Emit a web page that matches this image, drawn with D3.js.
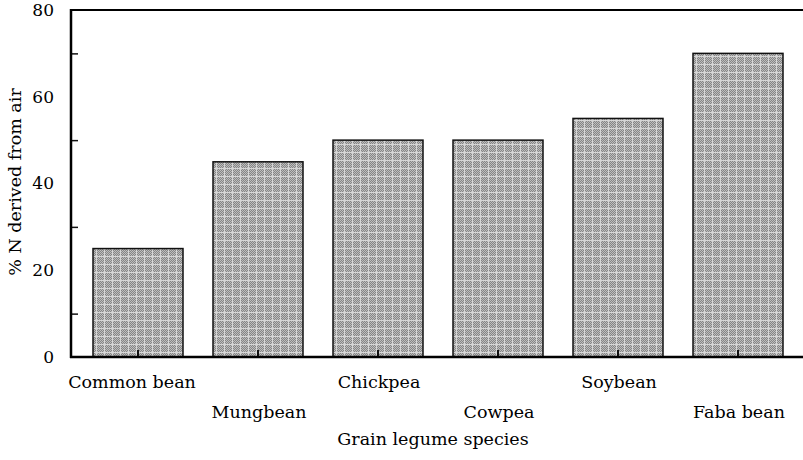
<!DOCTYPE html>
<html>
<head>
<meta charset="utf-8">
<script src="https://cdn.jsdelivr.net/npm/d3@7"></script>
<style>
  body { margin: 0; background: #fff; }
  svg { display: block; }
</style>
</head>
<body>
<svg id="chart" width="803" height="460"></svg>
<script>
// ========= Data ========= //
const species = ['Common bean', 'Mungbean', 'Chickpea', 'Cowpea', 'Soybean', 'Faba bean'];
const nFromAir = [25, 45, 50, 50, 55, 70];
const yTicks = [0, 20, 40, 60, 80];
const yMinorTicks = [10, 30, 50, 70];

const svg = d3.select('#chart');
const font = '"DejaVu Serif", "Liberation Serif", serif';

// ========= Scales ========= //
const x = d3.scaleBand()
  .domain(species)
  .range([73, 803])
  .paddingInner(0.25)
  .paddingOuter(1 / 6);

const y = d3.scaleLinear()
  .domain([0, 80])
  .range([357, 10]);

// ========= Stipple pattern for bars ========= //
const defs = svg.append('defs');
const pat = defs.append('pattern')
  .attr('id', 'stipple')
  .attr('patternUnits', 'userSpaceOnUse')
  .attr('width', 8)
  .attr('height', 8);
pat.append('rect').attr('width', 8).attr('height', 8).attr('fill', '#858585');
for (let i = 0; i < 8; i++) {
  for (let j = 0; j < 8; j++) {
    if ((i + j) % 2 === 0) {
      pat.append('rect').attr('x', i).attr('y', j).attr('width', 1).attr('height', 1).attr('fill', '#bdbdbd');
    }
  }
}
pat.append('rect').attr('x', 0).attr('y', 0).attr('width', 8).attr('height', 1).attr('fill', '#d6d6d6');
pat.append('rect').attr('x', 0).attr('y', 0).attr('width', 1).attr('height', 8).attr('fill', '#d6d6d6');

// ========= Bars ========= //
svg.append('g')
  .selectAll('rect')
  .data(species)
  .join('rect')
    .attr('x', d => x(d))
    .attr('y', (d, i) => y(nFromAir[i]))
    .attr('width', x.bandwidth())
    .attr('height', (d, i) => y(0) - y(nFromAir[i]))
    .attr('fill', 'url(#stipple)')
    .attr('stroke', '#111')
    .attr('stroke-width', 1.5);

// ========= Axes ========= //
const yAxis = svg.append('g')
  .attr('transform', 'translate(71,0)')
  .call(d3.axisRight(y).tickValues(yMinorTicks).tickSize(7).tickFormat(''));
yAxis.select('.domain').remove();
yAxis.selectAll('line').attr('stroke', '#111').attr('stroke-width', 1.5);

// major tick labels
svg.append('g')
  .selectAll('text')
  .data(yTicks)
  .join('text')
    .attr('x', 54)
    .attr('y', d => y(d))
    .attr('dy', '0.35em')
    .attr('text-anchor', 'end')
    .attr('font-family', font)
    .attr('font-size', '17px')
    .text(d => d);

// x ticks pointing up into the bars
const xAxis = svg.append('g')
  .attr('transform', 'translate(0,357)')
  .call(d3.axisTop(x).tickSize(7).tickFormat(''));
xAxis.select('.domain').remove();
xAxis.selectAll('line').attr('stroke', '#111').attr('stroke-width', 2);

// frame: left, top and bottom lines
svg.append('line').attr('x1', 71).attr('x2', 71).attr('y1', 9).attr('y2', 358)
  .attr('stroke', '#000').attr('stroke-width', 2.5);
svg.append('line').attr('x1', 70).attr('x2', 803).attr('y1', 10).attr('y2', 10)
  .attr('stroke', '#000').attr('stroke-width', 2);
svg.append('line').attr('x1', 70).attr('x2', 803).attr('y1', 357).attr('y2', 357)
  .attr('stroke', '#000').attr('stroke-width', 2.5);

// category labels on two staggered rows
svg.append('g')
  .selectAll('text')
  .data(species)
  .join('text')
    .attr('x', (d, i) => x(d) + x.bandwidth() / 2 + (i === 0 ? -6 : 1))
    .attr('y', (d, i) => i % 2 === 0 ? 388 : 418)
    .attr('text-anchor', 'middle')
    .attr('font-family', font)
    .attr('font-size', '17.5px')
    .text(d => d);

// axis titles
svg.append('text')
  .attr('x', 433)
  .attr('y', 445)
  .attr('text-anchor', 'middle')
  .attr('font-family', font)
  .attr('font-size', '17.5px')
  .text('Grain legume species');

svg.append('text')
  .attr('transform', 'translate(21,182) rotate(-90)')
  .attr('text-anchor', 'middle')
  .attr('font-family', font)
  .attr('font-size', '17.5px')
  .text('% N derived from air');
</script>
</body>
</html>
